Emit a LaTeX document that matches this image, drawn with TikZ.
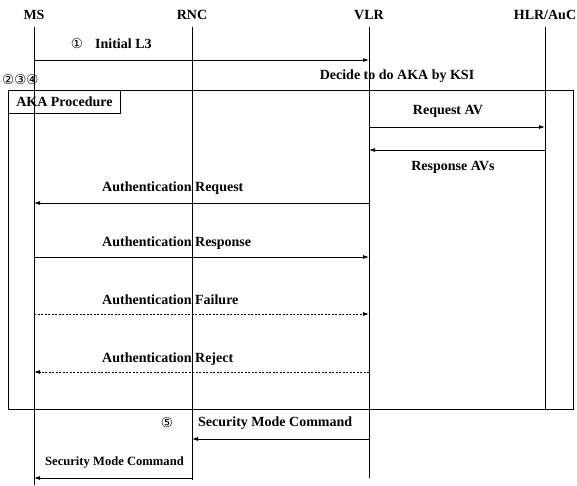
\documentclass[tikz,border=0pt]{standalone}
\usepackage{fontspec}
\setmainfont{Liberation Serif}
\newfontfamily\circfont{DejaVu Sans}
\usetikzlibrary{arrows.meta}
\begin{document}
\begin{tikzpicture}[x=1pt,y=-1pt,
  lbl/.style={font=\fontsize{14}{16}\selectfont\bfseries, inner sep=0pt},
  slbl/.style={font=\fontsize{12.6}{14}\selectfont\bfseries, inner sep=0pt},
  circ/.style={font=\circfont\fontsize{13.5}{14}\selectfont, inner sep=0pt},
  life/.style={line width=0.8pt},
  msg/.style={line width=0.8pt, -{Latex[length=6pt,width=4pt]}},
  dmsg/.style={msg, dash pattern=on 2pt off 1.5pt},
  frame/.style={line width=0.8pt}]
\useasboundingbox (0,0) rectangle (577,486);
% headers
\node[lbl] (ms) at (34,15) {MS};
\node[lbl] (rnc) at (192,15) {RNC};
\node[lbl] (vlr) at (369,15) {VLR};
\node[lbl] (hlr) at (545,15) {HLR/AuC};
% lifeline ends
\coordinate (msE) at (34,485);
\coordinate (rncE) at (192,480);
\coordinate (vlrE) at (369,478);
\coordinate (hlrE) at (545,409);
\draw[life] (ms.south |- 0,27) -- (msE);
\draw[life] (rnc.south |- 0,27) -- (rncE);
\draw[life] (vlr.south |- 0,27) -- (vlrE);
\draw[life] (hlr.south |- 0,27) -- (hlrE);
% Initial L3
\coordinate (a1) at (34,60); \coordinate (b1) at (369,60);
\draw[msg] (a1) -- (b1);
\node[circ] (c1) at (77,44) {①};
\node[lbl, anchor=west] (t1) at (95,44) {Initial L3};
% decide
\node[lbl] (t2) at (397,76) {Decide to do AKA by KSI};
\node[circ, anchor=west] (c234) at (2,80) {②③④};
% big frame
\node[draw, frame, minimum width=565pt, minimum height=319pt, anchor=north west] (box) at (8,90) {};
\node[draw, frame, lbl, anchor=north west, minimum width=112pt, minimum height=23pt, inner sep=0pt] (aka) at (8,90) {AKA Procedure};
% Request AV
\coordinate (a2) at (369,127); \coordinate (b2) at (545,127);
\draw[msg] (a2) -- (b2);
\node[lbl] (t3) at (448,111) {Request AV};
\coordinate (a3) at (545,150); \coordinate (b3) at (369,150);
\draw[msg] (a3) -- (b3);
\node[lbl] (t4) at (453,167) {Response AVs};
% Auth messages
\coordinate (a4) at (369,203); \coordinate (b4) at (34,203);
\draw[msg] (a4) -- (b4);
\node[lbl, anchor=west] (t5) at (102,188) {Authentication Request};
\coordinate (a5) at (34,257); \coordinate (b5) at (369,257);
\draw[msg] (a5) -- (b5);
\node[lbl, anchor=west] (t6) at (102,243) {Authentication Response};
\coordinate (a6) at (34,314); \coordinate (b6) at (369,314);
\draw[dmsg] (a6) -- (b6);
\node[lbl, anchor=west] (t7) at (102,300) {Authentication Failure};
\coordinate (a7) at (369,372); \coordinate (b7) at (34,372);
\draw[dmsg] (a7) -- (b7);
\node[lbl, anchor=west] (t8) at (102,359) {Authentication Reject};
% Security mode
\node[circ] (c5) at (167,423) {⑤};
\node[lbl, anchor=west] (t9) at (198,423) {Security Mode Command};
\coordinate (a8) at (369,439); \coordinate (b8) at (192,439);
\draw[msg] (a8) -- (b8);
\node[slbl, anchor=west] (t10) at (45,462) {Security Mode Command};
\coordinate (a9) at (192,478); \coordinate (b9) at (34,478);
\draw[msg] (a9) -- (b9);
\end{tikzpicture}
\end{document}
